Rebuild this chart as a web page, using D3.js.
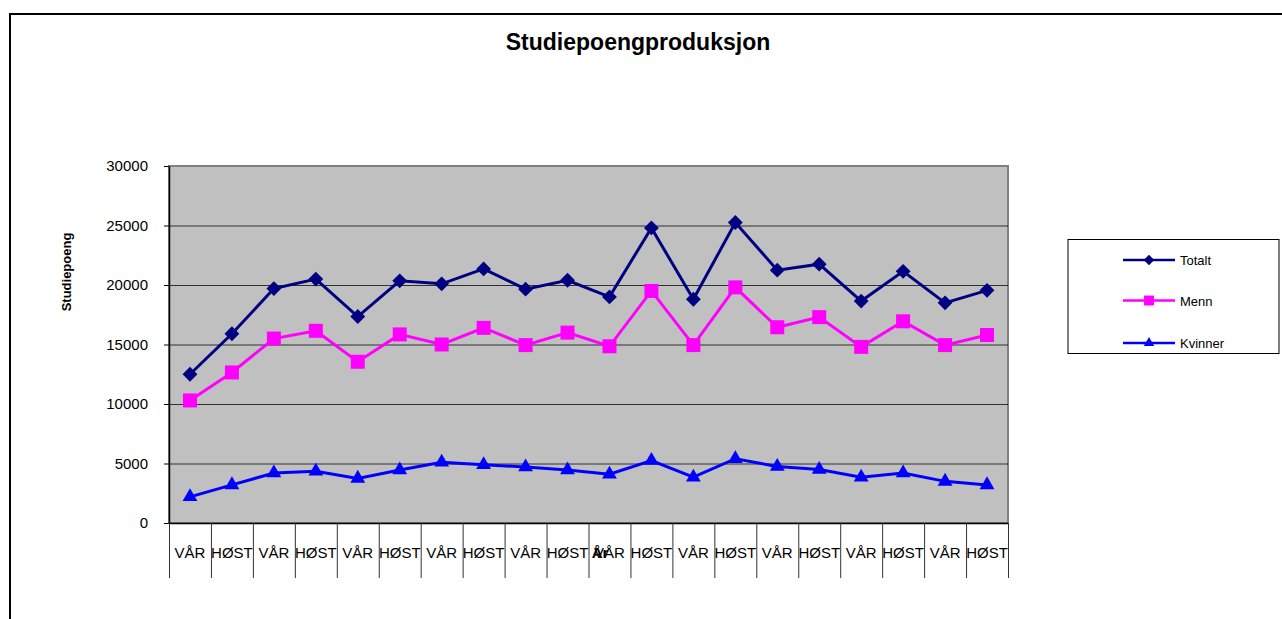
<!DOCTYPE html>
<html>
<head>
<meta charset="utf-8">
<script src="https://cdn.jsdelivr.net/npm/d3@7"></script>
<style>
  body { margin: 0; background: #fff; }
  svg text { font-family: "Liberation Sans", Arial, sans-serif; fill: #000; }
</style>
</head>
<body>
<svg id="chart" width="1282" height="619"></svg>
<script>
// semesters, alternating spring / autumn
const semesters = ["VÅR", "HØST", "VÅR", "HØST", "VÅR", "HØST", "VÅR", "HØST", "VÅR", "HØST",
                   "VÅR", "HØST", "VÅR", "HØST", "VÅR", "HØST", "VÅR", "HØST", "VÅR", "HØST"];
const totalt = [12500, 15900, 19700, 20500, 17350, 20350, 20100, 21350, 19650, 20400,
                19000, 24800, 18800, 25250, 21250, 21750, 18650, 21150, 18500, 19550];
const menn = [10300, 12650, 15500, 16150, 13550, 15850, 15000, 16400, 14950, 16000,
              14850, 19500, 14950, 19800, 16450, 17300, 14800, 16950, 14950, 15800];
const kvinner = [2200, 3200, 4200, 4350, 3750, 4450, 5100, 4900, 4700, 4450,
                 4100, 5250, 3850, 5400, 4750, 4500, 3850, 4200, 3500, 3200];
const yTicks = [0, 5000, 10000, 15000, 20000, 25000, 30000];

const series = [
    { name: "Totalt", values: totalt, color: "#000080", symbol: d3.symbolSquare, size: 110, rotate: 45 },
    { name: "Menn", values: menn, color: "#FF00FF", symbol: d3.symbolSquare, size: 196, rotate: 0 },
    { name: "Kvinner", values: kvinner, color: "#0000FF", symbol: d3.symbolTriangle, size: 95, rotate: 0 }
];

const svg = d3.select("#chart");

// outer chart border
svg.append("rect")
    .attr("x", 10).attr("y", 14)
    .attr("width", 1400).attr("height", 700)
    .attr("fill", "#fff")
    .attr("stroke", "#000")
    .attr("stroke-width", 2);

// plot area
const plotLeft = 169, plotRight = 1008, plotTop = 166, plotBottom = 523;

const x = d3.scaleBand()
    .domain(d3.range(semesters.length))
    .range([plotLeft, plotRight])
    .padding(0);

const xEdge = d3.scaleLinear()
    .domain([0, semesters.length])
    .range([plotLeft, plotRight]);

const y = d3.scaleLinear()
    .domain([0, 30000])
    .range([plotBottom, plotTop]);

svg.append("rect")
    .attr("x", plotLeft).attr("y", plotTop)
    .attr("width", plotRight - plotLeft).attr("height", plotBottom - plotTop)
    .attr("fill", "#C0C0C0")
    .attr("stroke", "#808080")
    .attr("stroke-width", 2);

// gridlines
svg.append("g")
    .attr("transform", "translate(" + plotLeft + ",0)")
    .call(d3.axisLeft(y).tickValues(yTicks.slice(1, -1)).tickSize(-(plotRight - plotLeft)).tickFormat(""))
    .call(g => g.select(".domain").remove())
    .call(g => g.selectAll("line").attr("stroke", "#000").attr("stroke-width", 1).attr("stroke-opacity", 0.75));

// y axis
svg.append("g")
    .attr("transform", "translate(" + plotLeft + ",0)")
    .call(d3.axisLeft(y).tickValues(yTicks).tickSize(5).tickPadding(16).tickSizeOuter(0).tickFormat(d3.format("d")))
    .call(g => g.select(".domain").attr("stroke", "#000").attr("stroke-width", 1.5))
    .call(g => g.selectAll("line").attr("stroke", "#000"))
    .call(g => g.selectAll("text").style("font-size", "15px").attr("font-family", null));

// x axis: separators below the axis
svg.append("g")
    .attr("transform", "translate(0," + plotBottom + ")")
    .call(d3.axisBottom(xEdge).tickValues(d3.range(semesters.length + 1)).tickSize(55).tickSizeOuter(0).tickFormat(""))
    .call(g => g.select(".domain").attr("stroke", "#000").attr("stroke-width", 1.5))
    .call(g => g.selectAll("line").attr("stroke", "#333").attr("stroke-width", 1));

svg.append("g")
    .selectAll("text")
    .data(semesters)
    .enter().append("text")
    .attr("x", (d, i) => x(i) + x.bandwidth() / 2)
    .attr("y", 558)
    .attr("text-anchor", "middle")
    .style("font-size", "15px")
    .text(d => d);

// axis titles
svg.append("text")
    .attr("x", 600)
    .attr("y", 558)
    .attr("text-anchor", "middle")
    .style("font-size", "15px")
    .style("font-weight", "bold")
    .text("År");

svg.append("text")
    .attr("transform", "translate(71,272) rotate(-90)")
    .attr("text-anchor", "middle")
    .style("font-size", "13px")
    .style("font-weight", "bold")
    .text("Studiepoeng");

// title
svg.append("text")
    .attr("x", 638)
    .attr("y", 50)
    .attr("text-anchor", "middle")
    .style("font-size", "23px")
    .style("font-weight", "bold")
    .text("Studiepoengproduksjon");

// lines and markers
const line = d3.line()
    .x((d, i) => x(i) + x.bandwidth() / 2)
    .y(d => y(d));

series.forEach(s => {
    svg.append("path")
        .datum(s.values)
        .attr("d", line)
        .attr("fill", "none")
        .attr("stroke", s.color)
        .attr("stroke-width", 3);

    svg.append("g")
        .selectAll("path")
        .data(s.values)
        .enter().append("path")
        .attr("d", d3.symbol().type(s.symbol).size(s.size))
        .attr("transform", (d, i) => "translate(" + (x(i) + x.bandwidth() / 2) + "," + y(d) + ") rotate(" + s.rotate + ")")
        .attr("fill", s.color);
});

// legend
const legend = svg.append("g");
legend.append("rect")
    .attr("x", 1068).attr("y", 239.5)
    .attr("width", 211).attr("height", 114)
    .attr("fill", "#fff")
    .attr("stroke", "#000")
    .attr("stroke-width", 1);

const legendY = [260, 300.5, 343];
series.forEach((s, i) => {
    const g = legend.append("g").attr("transform", "translate(0," + legendY[i] + ")");
    g.append("line")
        .attr("x1", 1123).attr("x2", 1175)
        .attr("stroke", s.color)
        .attr("stroke-width", 2.5);
    g.append("path")
        .attr("d", d3.symbol().type(s.symbol).size(s.size * 0.5))
        .attr("transform", "translate(1149,0) rotate(" + s.rotate + ")")
        .attr("fill", s.color);
    g.append("text")
        .attr("x", 1180)
        .attr("y", 5)
        .style("font-size", "13px")
        .text(s.name);
});
</script>
</body>
</html>
